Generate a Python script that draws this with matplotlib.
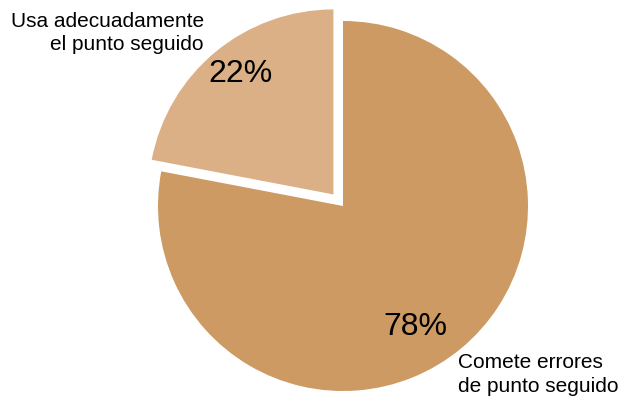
import matplotlib
matplotlib.use("Agg")
import matplotlib.pyplot as plt

# data
values = [78, 22]
pct_text = ["78%", "22%"]
colors = ["#CC9A62", "#DBB086"]
label_big = ["Comete errores", "de punto seguido"]
label_small = ["Usa adecuadamente", "el punto seguido"]

plt.rcParams['font.family'] = ['Liberation Sans', 'DejaVu Sans']

W, H = 622, 399
fig = plt.figure(figsize=(W / 100, H / 100), dpi=100)
ax = fig.add_axes([0, 0, 1, 1])

# explode is in data units (pixels here)
ax.pie(values, colors=colors, startangle=90, counterclock=False,
       radius=185, center=(343, 193), explode=[0, 15],
       wedgeprops=dict(linewidth=0), frame=True)
ax.set_xlim(0, W)
ax.set_ylim(0, H)
ax.axis('off')

# percentages
ax.text(415, H - 335, pct_text[0], fontsize=23, ha='center', va='baseline')
ax.text(240, H - 82, pct_text[1], fontsize=23, ha='center', va='baseline')

# outer labels, one line at a time
for i, line in enumerate(label_small):
    ax.text(204, H - (27 + 22.5 * i), line, fontsize=15, ha='right', va='baseline')
for i, line in enumerate(label_big):
    ax.text(458, H - (368 + 23.5 * i), line, fontsize=15, ha='left', va='baseline')

fig.savefig("out.png", dpi=100)
